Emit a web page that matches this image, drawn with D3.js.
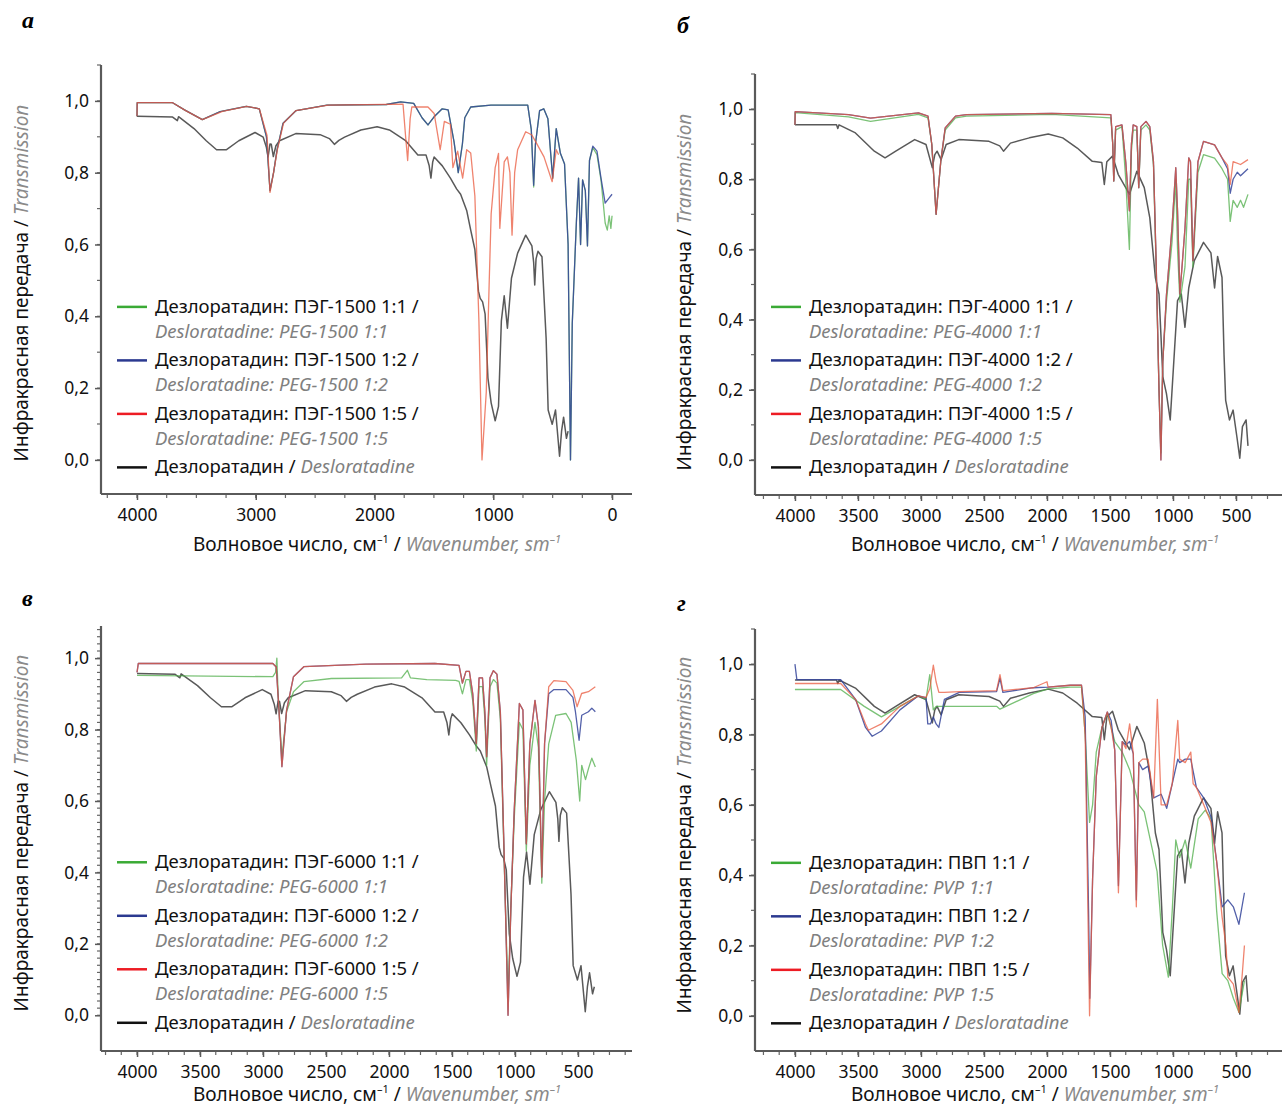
<!DOCTYPE html>
<html lang="ru">
<head>
<meta charset="UTF-8">
<title>ИК-спектры дезлоратадина</title>
<script src="https://cdn.jsdelivr.net/npm/d3@7"></script>
<style>
  body { margin: 0; background: #fff; }
  text { font-family: "Noto Sans", "Open Sans", sans-serif; }
</style>
</head>
<body>
<div id="chart"></div>
<script>
// --- data: [wavenumber, transmission] ---

// desloratadine, as drawn in panels a and c
const deslorAC = [[4000,0.957],[3700,0.955],[3660,0.945],[3650,0.956],[3520,0.923],[3417,0.889],[3330,0.864],[3246,0.864],[3143,0.889],[3006,0.912],[2937,0.899],[2910,0.87],[2896,0.844],[2880,0.88],[2869,0.879],[2852,0.845],[2830,0.875],[2800,0.889],[2663,0.909],[2458,0.906],[2380,0.895],[2338,0.879],[2300,0.89],[2252,0.899],[2115,0.919],[1978,0.928],[1875,0.919],[1738,0.889],[1635,0.849],[1566,0.849],[1540,0.82],[1525,0.785],[1510,0.83],[1498,0.844],[1429,0.819],[1361,0.785],[1309,0.755],[1275,0.74],[1224,0.695],[1190,0.64],[1155,0.586],[1125,0.47],[1110,0.45],[1090,0.44],[1069,0.407],[1045,0.228],[1018,0.159],[984,0.109],[956,0.149],[932,0.387],[908,0.457],[881,0.367],[847,0.506],[795,0.576],[727,0.626],[675,0.596],[660,0.55],[651,0.487],[640,0.56],[624,0.581],[590,0.566],[555,0.338],[538,0.139],[504,0.099],[476,0.139],[442,0.01],[425,0.08],[408,0.119],[384,0.06],[370,0.08]];

// desloratadine, as drawn in panels b and d
const deslorBD = [[4000,0.955],[3670,0.955],[3660,0.945],[3650,0.955],[3520,0.932],[3370,0.88],[3285,0.861],[3200,0.88],[3050,0.913],[2960,0.899],[2910,0.833],[2890,0.87],[2872,0.88],[2840,0.856],[2800,0.899],[2700,0.913],[2460,0.908],[2375,0.895],[2345,0.88],[2290,0.903],[2140,0.918],[1990,0.929],[1875,0.918],[1760,0.889],[1640,0.851],[1565,0.848],[1545,0.785],[1525,0.85],[1480,0.866],[1435,0.814],[1345,0.757],[1287,0.823],[1228,0.776],[1184,0.69],[1140,0.52],[1111,0.473],[1095,0.35],[1081,0.237],[1052,0.189],[1022,0.114],[993,0.284],[964,0.454],[934,0.473],[905,0.378],[875,0.49],[831,0.568],[758,0.62],[699,0.59],[670,0.49],[646,0.58],[611,0.52],[595,0.3],[582,0.17],[552,0.114],[523,0.142],[493,0.066],[470,0.005],[449,0.095],[420,0.114],[405,0.04]];

// panel a: PEG-1500
const peg1500r11 = [[4000,0.957],[3998,0.995],[3700,0.995],[3600,0.975],[3450,0.948],[3300,0.97],[3080,0.985],[2970,0.978],[2910,0.9],[2880,0.75],[2850,0.8],[2820,0.865],[2770,0.938],[2660,0.973],[2400,0.988],[1900,0.99],[1780,0.997],[1670,0.993],[1600,0.953],[1550,0.933],[1500,0.955],[1430,0.978],[1380,0.975],[1330,0.885],[1295,0.8],[1260,0.88],[1240,0.953],[1190,0.983],[1020,0.988],[710,0.988],[680,0.92],[660,0.76],[645,0.88],[610,0.973],[575,0.978],[540,0.95],[500,0.785],[470,0.923],[435,0.854],[400,0.824],[370,0.6],[350,0.0],[335,0.38],[300,0.665],[282,0.785],[265,0.6],[248,0.78],[225,0.75],[207,0.596],[190,0.834],[162,0.87],[127,0.85],[93,0.78],[58,0.66],[40,0.64],[24,0.68],[10,0.645],[0,0.68]];
const peg1500r12 = [[4000,0.957],[3998,0.995],[3700,0.995],[3600,0.975],[3450,0.948],[3300,0.97],[3080,0.985],[2970,0.978],[2910,0.9],[2880,0.75],[2850,0.8],[2820,0.865],[2770,0.938],[2660,0.973],[2400,0.988],[1900,0.99],[1780,0.997],[1670,0.993],[1600,0.953],[1550,0.933],[1500,0.955],[1430,0.978],[1380,0.975],[1330,0.885],[1295,0.8],[1260,0.88],[1240,0.953],[1190,0.983],[1020,0.988],[710,0.988],[680,0.92],[660,0.765],[645,0.88],[610,0.973],[575,0.978],[540,0.95],[500,0.785],[470,0.923],[435,0.854],[400,0.824],[370,0.6],[350,0.0],[335,0.38],[300,0.665],[282,0.785],[265,0.6],[248,0.78],[225,0.75],[207,0.596],[190,0.834],[162,0.874],[127,0.86],[93,0.785],[58,0.715],[24,0.73],[0,0.74]];
const peg1500r15 = [[4000,0.957],[3998,0.995],[3700,0.995],[3590,0.973],[3450,0.948],[3280,0.971],[3075,0.985],[2970,0.978],[2905,0.904],[2880,0.745],[2850,0.8],[2818,0.864],[2766,0.938],[2663,0.973],[2390,0.988],[1760,0.991],[1738,0.9],[1721,0.834],[1700,0.95],[1686,0.983],[1550,0.983],[1498,0.965],[1447,0.864],[1412,0.943],[1361,0.935],[1340,0.814],[1300,0.86],[1258,0.785],[1224,0.864],[1190,0.855],[1155,0.735],[1121,0.387],[1095,0.0],[1059,0.189],[1035,0.487],[1018,0.685],[984,0.814],[956,0.854],[945,0.645],[908,0.83],[881,0.844],[860,0.8],[842,0.626],[820,0.8],[795,0.864],[727,0.914],[675,0.905],[641,0.885],[573,0.844],[504,0.775],[470,0.864],[450,0.85]];

// panel b: PEG-4000
const peg4000r11 = [[4000,0.955],[3998,0.99],[3575,0.978],[3400,0.965],[3020,0.985],[2944,0.975],[2914,0.899],[2880,0.7],[2843,0.85],[2808,0.94],[2726,0.975],[2638,0.98],[1963,0.985],[1493,0.975],[1478,0.899],[1470,0.795],[1455,0.94],[1405,0.95],[1375,0.8],[1346,0.6],[1330,0.88],[1316,0.94],[1287,0.94],[1272,0.776],[1255,0.94],[1214,0.955],[1184,0.94],[1155,0.84],[1134,0.55],[1111,0.2],[1096,0.02],[1081,0.28],[1052,0.45],[1008,0.62],[978,0.8],[964,0.6],[945,0.45],[905,0.55],[875,0.8],[861,0.8],[842,0.55],[802,0.82],[758,0.87],[670,0.86],[611,0.83],[567,0.8],[546,0.68],[523,0.74],[490,0.72],[464,0.74],[440,0.72],[405,0.757]];
const peg4000r12 = [[4000,0.955],[3998,0.993],[3575,0.984],[3400,0.974],[3020,0.989],[2944,0.98],[2914,0.899],[2880,0.7],[2843,0.85],[2808,0.946],[2726,0.98],[2638,0.984],[1963,0.988],[1493,0.984],[1478,0.899],[1470,0.795],[1455,0.95],[1405,0.955],[1375,0.85],[1346,0.71],[1330,0.9],[1316,0.955],[1287,0.95],[1272,0.776],[1255,0.95],[1214,0.965],[1184,0.95],[1155,0.85],[1134,0.568],[1111,0.2],[1096,0.0],[1081,0.28],[1052,0.47],[1008,0.662],[978,0.833],[964,0.71],[945,0.473],[905,0.66],[875,0.861],[861,0.85],[842,0.568],[802,0.85],[758,0.908],[670,0.898],[611,0.861],[567,0.83],[546,0.76],[523,0.8],[490,0.82],[464,0.81],[405,0.83]];
const peg4000r15 = [[4000,0.955],[3998,0.993],[3575,0.984],[3400,0.974],[3020,0.989],[2944,0.98],[2914,0.899],[2880,0.7],[2843,0.85],[2808,0.946],[2726,0.98],[2638,0.984],[1963,0.988],[1493,0.984],[1478,0.899],[1470,0.795],[1455,0.95],[1405,0.955],[1375,0.85],[1346,0.71],[1330,0.9],[1316,0.955],[1287,0.95],[1272,0.776],[1255,0.95],[1214,0.965],[1184,0.95],[1155,0.85],[1134,0.568],[1111,0.2],[1096,0.0],[1081,0.28],[1052,0.47],[1008,0.662],[978,0.833],[964,0.71],[945,0.473],[905,0.66],[875,0.861],[861,0.85],[842,0.568],[802,0.85],[758,0.908],[670,0.898],[611,0.861],[567,0.84],[546,0.785],[523,0.85],[464,0.842],[405,0.856]];

// panel c: PEG-6000
const peg6000r11 = [[4000,0.952],[2922,0.948],[2900,0.96],[2890,1.0],[2880,0.9],[2850,0.72],[2813,0.85],[2758,0.906],[2676,0.934],[2457,0.943],[1900,0.945],[1854,0.966],[1830,0.945],[1700,0.94],[1471,0.938],[1444,0.935],[1417,0.9],[1389,0.94],[1362,0.94],[1335,0.88],[1307,0.74],[1285,0.92],[1258,0.92],[1239,0.83],[1225,0.7],[1198,0.92],[1171,0.94],[1143,0.93],[1116,0.83],[1088,0.46],[1055,0.05],[1033,0.3],[1006,0.55],[965,0.82],[937,0.8],[910,0.46],[882,0.7],[841,0.82],[814,0.75],[787,0.37],[765,0.6],[732,0.76],[677,0.84],[595,0.845],[554,0.82],[513,0.714],[486,0.6],[470,0.7],[440,0.66],[417,0.69],[390,0.72],[362,0.695]];
const peg6000r12 = [[4000,0.96],[3990,0.985],[2922,0.985],[2895,0.975],[2873,0.854],[2850,0.696],[2813,0.854],[2758,0.948],[2676,0.976],[2183,0.983],[1636,0.985],[1444,0.98],[1417,0.93],[1389,0.963],[1362,0.963],[1335,0.9],[1307,0.761],[1285,0.945],[1258,0.945],[1239,0.85],[1225,0.724],[1198,0.945],[1171,0.965],[1143,0.955],[1116,0.85],[1088,0.48],[1055,0.0],[1033,0.294],[1006,0.574],[965,0.873],[937,0.855],[910,0.48],[882,0.76],[841,0.882],[814,0.808],[787,0.387],[765,0.761],[732,0.9],[691,0.912],[595,0.912],[540,0.89],[520,0.85],[491,0.77],[470,0.84],[417,0.85],[390,0.86],[362,0.85]];
const peg6000r15 = [[4000,0.96],[3990,0.985],[2922,0.985],[2895,0.975],[2873,0.854],[2850,0.696],[2813,0.854],[2758,0.948],[2676,0.976],[2183,0.983],[1636,0.985],[1444,0.98],[1417,0.93],[1389,0.963],[1362,0.963],[1335,0.9],[1307,0.761],[1285,0.945],[1258,0.945],[1239,0.85],[1225,0.724],[1198,0.945],[1171,0.965],[1143,0.955],[1116,0.85],[1088,0.48],[1055,0.0],[1033,0.294],[1006,0.574],[965,0.873],[937,0.855],[910,0.48],[882,0.76],[841,0.882],[814,0.808],[787,0.387],[765,0.761],[732,0.92],[691,0.937],[595,0.934],[540,0.91],[507,0.864],[471,0.901],[417,0.906],[362,0.92]];

// panel d: PVP
const pvp11 = [[4000,0.928],[3637,0.928],[3450,0.88],[3314,0.85],[3167,0.88],[3020,0.91],[2960,0.9],[2930,0.97],[2902,0.87],[2880,0.88],[2814,0.88],[2696,0.88],[2400,0.88],[2373,0.872],[2109,0.916],[1991,0.93],[1814,0.935],[1726,0.935],[1697,0.8],[1662,0.55],[1638,0.6],[1609,0.75],[1564,0.82],[1521,0.86],[1491,0.82],[1462,0.78],[1403,0.75],[1344,0.7],[1271,0.6],[1228,0.58],[1126,0.41],[1082,0.2],[1037,0.11],[1006,0.3],[978,0.5],[947,0.45],[903,0.5],[859,0.42],[800,0.56],[744,0.585],[698,0.56],[654,0.3],[610,0.12],[565,0.1],[521,0.05],[477,0.01],[433,0.1]];
const pvp12 = [[4000,1.0],[3985,0.956],[3637,0.956],[3519,0.9],[3440,0.82],[3387,0.795],[3314,0.81],[3167,0.87],[3020,0.91],[2960,0.905],[2946,0.83],[2925,0.83],[2902,0.85],[2880,0.83],[2858,0.82],[2814,0.9],[2696,0.92],[2400,0.922],[2373,0.96],[2350,0.92],[2109,0.933],[1991,0.935],[1814,0.94],[1726,0.94],[1697,0.85],[1670,0.3],[1660,0.05],[1638,0.39],[1609,0.68],[1564,0.82],[1521,0.864],[1491,0.84],[1462,0.755],[1433,0.37],[1403,0.78],[1374,0.77],[1344,0.78],[1315,0.745],[1291,0.33],[1271,0.72],[1241,0.7],[1198,0.71],[1153,0.62],[1094,0.63],[1050,0.59],[1006,0.66],[962,0.73],[947,0.72],[903,0.73],[859,0.73],[815,0.65],[756,0.62],[698,0.565],[654,0.44],[610,0.31],[565,0.33],[521,0.31],[477,0.26],[433,0.35]];
const pvp15 = [[4000,0.945],[3637,0.945],[3519,0.9],[3440,0.83],[3417,0.812],[3314,0.83],[3167,0.88],[3020,0.91],[2960,0.905],[2930,0.93],[2902,0.997],[2880,0.95],[2858,0.92],[2814,0.92],[2696,0.922],[2400,0.925],[2373,0.97],[2350,0.925],[2109,0.933],[2000,0.95],[1991,0.935],[1814,0.94],[1726,0.94],[1697,0.8],[1662,0.0],[1638,0.39],[1609,0.68],[1564,0.82],[1521,0.864],[1491,0.82],[1462,0.755],[1433,0.35],[1403,0.78],[1374,0.76],[1344,0.83],[1315,0.745],[1291,0.31],[1271,0.72],[1241,0.73],[1198,0.73],[1153,0.62],[1124,0.9],[1094,0.6],[1050,0.6],[1006,0.66],[962,0.84],[947,0.73],[903,0.72],[859,0.75],[840,0.66],[815,0.65],[756,0.6],[698,0.55],[654,0.44],[610,0.28],[580,0.2],[565,0.11],[521,0.09],[477,0.01],[450,0.12],[433,0.2]];

// tick labels
const yTicks = [0, 0.2, 0.4, 0.6, 0.8, 1.0];
const xTicksA = [4000, 3000, 2000, 1000, 0];
const xTicksBCD = [4000, 3500, 3000, 2500, 2000, 1500, 1000, 500];

// legend texts
const polymers = ["ПЭГ-1500", "ПЭГ-4000", "ПЭГ-6000", "ПВП"];
const polymersEn = ["PEG-1500", "PEG-4000", "PEG-6000", "PVP"];
const ratios = ["1:1", "1:2", "1:5"];

const lineColors = ["#4fae4a", "#34449a", "#ea5a3e", "#3c3c3c"];
const legendColors = ["#3aaa35", "#2b3990", "#ed1c24", "#111111"];
const curveOpacity = [0.75, 0.85, 0.75, 0.85];
const curveWidth = [1.3, 1.3, 1.3, 1.5];

const svg = d3.select("#chart").append("svg")
  .attr("width", 1282).attr("height", 1108);

// layout of the four panels (px)
const panels = [
  { letter: "а", lx: 22, ly: 28, series: [peg1500r11, peg1500r12, peg1500r15, deslorAC],
    x: [101, 632], xd: [4303, -168], y: [494, 65], yd: [-0.095, 1.1],
    xTicks: xTicksA, xMinor: 250, yMinor: 0.1,
    ytX: 22, ytY: 283, xtX: 377, xtY: 551 },
  { letter: "б", lx: 677, ly: 33, series: [peg4000r11, peg4000r12, peg4000r15, deslorBD],
    x: [755, 1282], xd: [4317, 135], y: [495, 74], yd: [-0.1, 1.1],
    xTicks: xTicksBCD, xMinor: 125, yMinor: 0.1,
    ytX: 685, ytY: 292, xtX: 1035, xtY: 551 },
  { letter: "в", lx: 22, ly: 606, series: [peg6000r11, peg6000r12, peg6000r15, deslorAC],
    x: [101, 632], xd: [4286, 71], y: [1051, 626], yd: [-0.1, 1.09],
    xTicks: xTicksBCD, xMinor: 125, yMinor: 0.02,
    ytX: 22, ytY: 833, xtX: 377, xtY: 1101 },
  { letter: "г", lx: 677, ly: 611, series: [pvp11, pvp12, pvp15, deslorBD],
    x: [755, 1282], xd: [4317, 135], y: [1051, 629], yd: [-0.1, 1.1],
    xTicks: xTicksBCD, xMinor: 125, yMinor: 0.1,
    ytX: 685, ytY: 835, xtX: 1035, xtY: 1101 }
];

const fmt = d => d.toFixed(1).replace(".", ",");

panels.forEach(function (p, i) {
  const xs = d3.scaleLinear().domain(p.xd).range(p.x);
  const ys = d3.scaleLinear().domain(p.yd).range(p.y);
  const g = svg.append("g");

  // panel letter
  g.append("text")
    .attr("x", p.lx).attr("y", p.ly)
    .text(p.letter)
    .style("font-family", "'Liberation Serif', 'DejaVu Serif', serif")
    .style("font-weight", "bold").style("font-style", "italic")
    .attr("font-size", 24);

  // minor ticks
  const yMin = d3.range(0, 1.1 + 1e-9, p.yMinor).filter(v => v <= p.yd[1]);
  g.selectAll(".ymin").data(yMin).enter().append("line")
    .attr("x1", p.x[0] - 4).attr("x2", p.x[0])
    .attr("y1", d => ys(d)).attr("y2", d => ys(d))
    .attr("stroke", "#666").attr("stroke-width", 1.2);
  const xMin = d3.range(4000 + p.xMinor * 2, p.xd[1], -p.xMinor).filter(v => v < p.xd[0]);
  g.selectAll(".xmin").data(xMin).enter().append("line")
    .attr("x1", d => xs(d)).attr("x2", d => xs(d))
    .attr("y1", p.y[0]).attr("y2", p.y[0] + 4)
    .attr("stroke", "#666").attr("stroke-width", 1.2);

  // y axis
  const yAxis = g.append("g")
    .attr("transform", `translate(${p.x[0]},0)`)
    .call(d3.axisLeft(ys).tickValues(yTicks).tickFormat(fmt).tickSize(6).tickPadding(6));
  yAxis.select(".domain").attr("d", `M0,${p.y[0]}V${p.y[1]}`);

  // x axis
  const xAxis = g.append("g")
    .attr("transform", `translate(0,${p.y[0]})`)
    .call(d3.axisBottom(xs).tickValues(p.xTicks).tickFormat(d3.format("d")).tickSize(6).tickPadding(9));
  xAxis.select(".domain").attr("d", `M${p.x[0]},0H${p.x[1]}`);

  [yAxis, xAxis].forEach(a => {
    a.select(".domain").attr("stroke", "#5a5a5a").attr("stroke-width", 2.2);
    a.selectAll(".tick line").attr("stroke", "#5a5a5a").attr("stroke-width", 1.5);
    a.selectAll(".tick text").attr("fill", "#111")
      .style("font-family", "'Noto Sans', sans-serif").attr("font-size", 17.5);
  });

  // axis titles
  const yt = g.append("text")
    .attr("transform", `translate(${p.ytX + 6},${p.ytY}) rotate(-90)`)
    .attr("text-anchor", "middle").attr("font-size", 19).attr("fill", "#111");
  yt.append("tspan").text("Инфракрасная передача / ");
  yt.append("tspan").text("Transmission").attr("fill", "#8a8a8a").style("font-style", "italic");

  const xt = g.append("text")
    .attr("x", p.xtX).attr("y", p.xtY)
    .attr("text-anchor", "middle").attr("font-size", 19).attr("fill", "#111");
  xt.append("tspan").text("Волновое число, см");
  xt.append("tspan").text("–1").attr("font-size", 11).attr("dy", -8);
  xt.append("tspan").text(" / ").attr("dy", 8);
  xt.append("tspan").text("Wavenumber, sm").attr("fill", "#8a8a8a").style("font-style", "italic");
  xt.append("tspan").text("–1").attr("fill", "#8a8a8a").style("font-style", "italic")
    .attr("font-size", 11).attr("dy", -8);

  // spectra: black first, then green, blue, red on top
  const line = d3.line().x(d => xs(d[0])).y(d => ys(d[1]));
  [3, 0, 1, 2].forEach(k => {
    g.append("path")
      .datum(p.series[k])
      .attr("d", line)
      .attr("fill", "none")
      .attr("stroke", lineColors[k])
      .attr("stroke-opacity", curveOpacity[k])
      .attr("stroke-width", curveWidth[k])
      .attr("stroke-linejoin", "round");
  });

  // legend
  const lx = p.x[0] + 16;
  const rowTop = ys(0) - 153;
  for (let k = 0; k < 4; k++) {
    const cy = rowTop + k * 53.5;
    g.append("line")
      .attr("x1", lx).attr("x2", lx + 30).attr("y1", cy).attr("y2", cy)
      .attr("stroke", legendColors[k]).attr("stroke-width", 2.5);
    if (k < 3) {
      g.append("text").attr("x", lx + 38).attr("y", cy + 6)
        .attr("font-size", 18.5).attr("fill", "#111")
        .text(`Дезлоратадин: ${polymers[i]} ${ratios[k]} /`);
      g.append("text").attr("x", lx + 38).attr("y", cy + 31)
        .attr("font-size", 18.5).attr("fill", "#808080").style("font-style", "italic")
        .text(`Desloratadine: ${polymersEn[i]} ${ratios[k]}`);
    } else {
      const t = g.append("text").attr("x", lx + 38).attr("y", cy + 6)
        .attr("font-size", 18.5).attr("fill", "#111");
      t.append("tspan").text("Дезлоратадин / ");
      t.append("tspan").text("Desloratadine").attr("fill", "#808080").style("font-style", "italic");
    }
  }
});
</script>
</body>
</html>
